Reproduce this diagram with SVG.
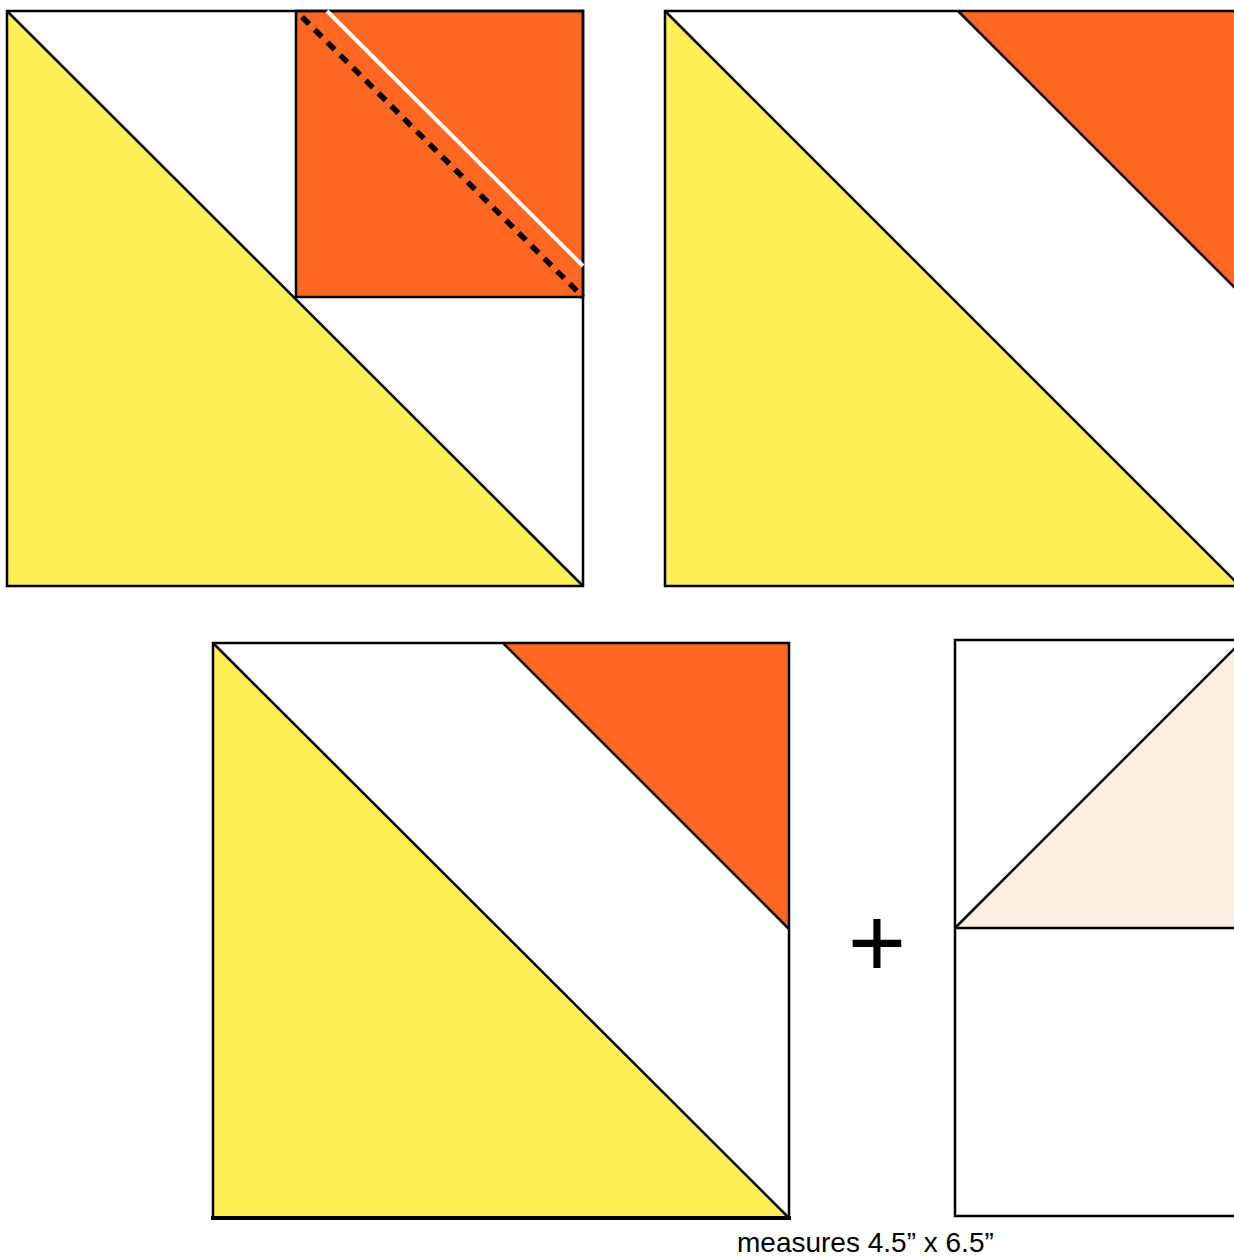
<svg xmlns="http://www.w3.org/2000/svg" width="1234" height="1258" viewBox="0 0 1234 1258">
<style>
.ln{stroke:#000;stroke-width:2.5;stroke-linejoin:miter;fill:none}
.y{fill:#FFEF57}
.o{fill:#FF6722}
.p{fill:#FEEFE3}
.w{fill:#FFFFFF}
.t{font-family:"Liberation Sans",Arial,sans-serif;fill:#000}
</style>
<rect width="1234" height="1258" fill="#fff"/>
<g id="block-1">
<rect class="w" x="7" y="11" width="576" height="575"/>
<polygon class="y" points="7,11 7,586 583,586"/>
<rect class="o" x="296" y="11" width="287" height="286"/>
<line class="ln" x1="7" y1="11" x2="583" y2="586"/>
<rect class="ln" x="296" y="11" width="287" height="286"/>
<rect class="ln" x="7" y="11" width="576" height="575"/>
<line x1="327" y1="11" x2="583" y2="266" stroke="#fff" stroke-width="4"/>
<line x1="302" y1="17" x2="583" y2="297" stroke="#000" stroke-width="5.5" stroke-dasharray="10,8"/>
</g>
<g id="block-2">
<rect class="w" x="665" y="11" width="600" height="575"/>
<polygon class="y" points="665,11 665,586 1240,586"/>
<polygon class="o" points="958,11 1240,11 1240,293"/>
<line class="ln" x1="665" y1="11" x2="1240" y2="586"/>
<line class="ln" x1="958" y1="11" x2="1240" y2="293"/>
<polyline class="ln" points="1240,11 665,11 665,586 1240,586"/>
</g>
<g id="block-3">
<rect class="w" x="213" y="643" width="576" height="575"/>
<polygon class="y" points="213,643 213,1218 789,1218"/>
<polygon class="o" points="503,643 789,643 789,929"/>
<line class="ln" x1="213" y1="643" x2="789" y2="1218"/>
<line class="ln" x1="503" y1="643" x2="789" y2="929"/>
<rect class="ln" x="213" y="643" width="576" height="575"/>
<line x1="211" y1="1218" x2="791" y2="1218" stroke="#000" stroke-width="4"/>
</g>
<g id="plus">
<text class="t" x="877" y="977" font-size="100" text-anchor="middle">+</text>
</g>
<g id="block-4">
<rect class="w" x="955" y="640" width="300" height="576"/>
<polygon class="p" points="955,928 1243,640 1243,928"/>
<line class="ln" x1="955" y1="928" x2="1243" y2="640"/>
<line class="ln" x1="955" y1="928" x2="1243" y2="928" stroke-width="3"/>
<polyline class="ln" points="1243,640 955,640 955,1216 1243,1216"/>
</g>
<g id="label">
<text class="t" x="737" y="1252" font-size="28">measures 4.5” x 6.5”</text>
</g>
</svg>
